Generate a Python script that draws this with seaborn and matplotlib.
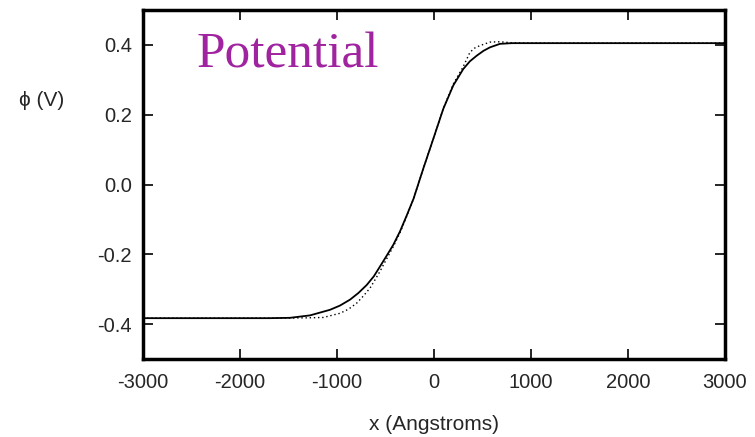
import numpy as np
import pandas as pd
import seaborn as sns
import matplotlib.pyplot as plt

# 実線（計算結果）の読み取り値
x_solid = [-3000, -2000, -1700, -1485, -1278, -1072, -970, -866, -780, -694, -620,
           -557, -490, -420, -350, -280, -210, -110, -7, 96, 199, 302, 370, 440,
           510, 577, 680, 800, 1000, 3000]
y_solid = [-0.383, -0.383, -0.383, -0.382, -0.375, -0.359, -0.347, -0.330, -0.311,
           -0.288, -0.263, -0.235, -0.205, -0.173, -0.134, -0.088, -0.040, 0.046,
           0.131, 0.217, 0.284, 0.331, 0.353, 0.369, 0.383, 0.393, 0.403, 0.405,
           0.405, 0.405]

# 点線（近似）の読み取り値
x_dot = [-3000, -2000, -1600, -1300, -1141, -969, -880, -797, -730, -660, -610,
         -557, -490, -420, -350, -280, -210, -110, -7, 96, 199, 300, 371, 420,
         474, 577, 680, 800, 1000, 3000]
y_dot = [-0.383, -0.383, -0.383, -0.382, -0.381, -0.369, -0.357, -0.340, -0.320,
         -0.297, -0.274, -0.249, -0.214, -0.178, -0.138, -0.090, -0.040, 0.046,
         0.131, 0.218, 0.288, 0.337, 0.379, 0.391, 0.398, 0.408, 0.409, 0.406,
         0.405, 0.405]

x_ticks = [-3000, -2000, -1000, 0, 1000, 2000, 3000]
y_ticks = [-0.4, -0.2, 0.0, 0.2, 0.4]

sns.set_style("ticks")
plt.rcParams['font.family'] = ['Liberation Sans', 'DejaVu Sans']
plt.rcParams['axes.unicode_minus'] = False

df_solid = pd.DataFrame({'x': x_solid, 'phi': y_solid})
df_dot = pd.DataFrame({'x': x_dot, 'phi': y_dot})

fig = plt.figure(figsize=(7.55, 4.37), dpi=100)
ax = fig.add_axes([143 / 755, 1 - 359 / 437, 582 / 755, 349 / 437])

sns.lineplot(data=df_dot, x='x', y='phi', ax=ax, color='black',
             linestyle=(0, (1, 2)), linewidth=1.0)
sns.lineplot(data=df_solid, x='x', y='phi', ax=ax, color='black', linewidth=1.3)

ax.set_xlim(-3000, 3000)
ax.set_ylim(-0.5, 0.5)
ax.set_xticks(x_ticks)
ax.set_xticklabels([str(t) for t in x_ticks])
ax.set_yticks(y_ticks)
ax.set_yticklabels([f"{t:.1f}" for t in y_ticks])
ax.tick_params(direction='in', length=7, width=1.2, top=True, right=True,
               labelsize=14.5, color='black')
ax.tick_params(axis='x', pad=10)
ax.tick_params(axis='y', pad=8)
for s in ax.spines.values():
    s.set_linewidth(2.5)
    s.set_color('black')

ax.set_xlabel('')
ax.set_ylabel('')
fig.text(434 / 755, 1 - 425 / 437, 'x (Angstroms)', ha='center', va='center', fontsize=15)
fig.text(42 / 755, 1 - 100 / 437, 'ϕ (V)', ha='center', va='center', fontsize=15)

# タイトル代わりの文字
ax.text(197 / 755, 1 - 55 / 437, 'Potential', transform=fig.transFigure,
        ha='left', va='center', fontsize=37, color='#A0249F',
        family=['Liberation Serif', 'DejaVu Serif'])

plt.savefig('out.png', dpi=100)
